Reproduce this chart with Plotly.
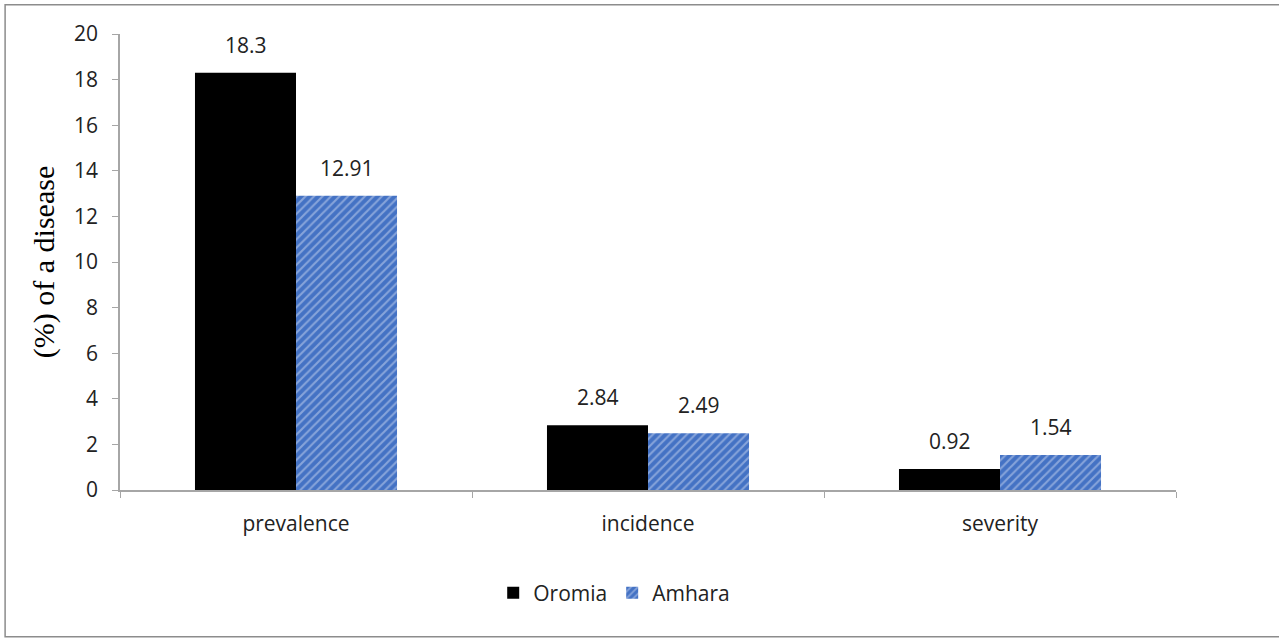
import plotly.graph_objects as go

categories = ["prevalence", "incidence", "severity"]
oromia = [18.3, 2.84, 0.92]
amhara = [12.91, 2.49, 1.54]
y_ticks = [0, 2, 4, 6, 8, 10, 12, 14, 16, 18, 20]

sans = "Open Sans, Carlito, Calibri, sans-serif"
label_font = dict(family=sans, size=21, color="#222222")

fig = go.Figure()
fig.add_trace(go.Bar(
    name="Oromia", x=categories, y=oromia,
    marker=dict(color="#000000", line=dict(width=0)),
))
fig.add_trace(go.Bar(
    name="Amhara", x=categories, y=amhara,
    marker=dict(color="#4472C4", line=dict(width=0),
                pattern=dict(shape="/", fgcolor="#C9D6F0", bgcolor="#4472C4",
                             size=6, solidity=0.35)),
))

# value labels sitting above each bar of the group
bar_half = 50.5
annotations = []
for series, shift in ((oromia, -bar_half), (amhara, bar_half)):
    for cat, v in zip(categories, series):
        annotations.append(dict(
            x=cat, y=v, xref="x", yref="y", text=f"{v:g}", showarrow=False,
            xshift=shift, yshift=12, yanchor="bottom", font=label_font,
        ))

fig.update_layout(
    width=1279, height=641,
    paper_bgcolor="white", plot_bgcolor="white",
    margin=dict(l=120, r=103, t=34, b=151),
    barmode="group", bargap=0.426, bargroupgap=0,
    font=label_font,
    showlegend=True,
    legend=dict(orientation="h", x=0.468, xanchor="center", y=-0.226, yanchor="middle",
                font=label_font, itemwidth=30, traceorder="normal"),
    annotations=annotations,
    shapes=[dict(type="rect", xref="paper", yref="paper",
                 x0=-0.1088, x1=1.0985, y0=-0.322, y1=1.064,
                 line=dict(color="#8C8C8C", width=1.5))],
)

fig.update_xaxes(
    showline=True, linecolor="#A6A6A6", linewidth=1.5,
    ticks="outside", tickson="boundaries", ticklen=6, tickcolor="#A6A6A6",
    tickfont=label_font, showgrid=False, ticklabelstandoff=14,
)
fig.update_yaxes(
    range=[0, 20], tickvals=y_ticks, showline=True, linecolor="#A6A6A6", linewidth=1.5,
    ticks="outside", ticklen=6, tickcolor="#A6A6A6", showgrid=False, zeroline=False,
    tickfont=label_font, ticklabelstandoff=10,
    title=dict(text="(%) of a disease",
               font=dict(family="Liberation Serif, Times New Roman, serif", size=30, color="#000000"),
               standoff=11),
)

fig.write_html("out.html")
